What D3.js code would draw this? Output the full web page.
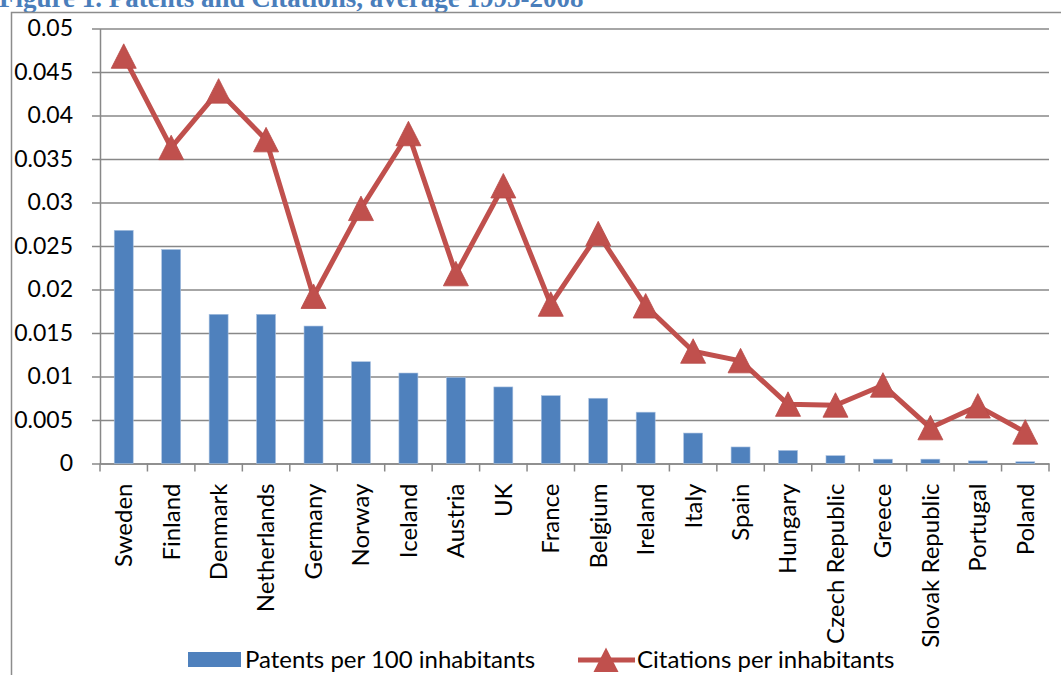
<!DOCTYPE html>
<html>
<head>
<meta charset="utf-8">
<script src="https://cdn.jsdelivr.net/npm/d3@7"></script>
<style>
  html, body { margin: 0; padding: 0; background: #fff; }
  svg { display: block; }
</style>
</head>
<body>
<div id="chart"></div>
<script>
const countries = ["Sweden", "Finland", "Denmark", "Netherlands", "Germany", "Norway", "Iceland", "Austria",
  "UK", "France", "Belgium", "Ireland", "Italy", "Spain", "Hungary", "Czech Republic", "Greece",
  "Slovak Republic", "Portugal", "Poland"];
const patents = [0.0268, 0.0246, 0.01715, 0.01715, 0.0158, 0.0117, 0.0104, 0.0099,
  0.0088, 0.0078, 0.0075, 0.0059, 0.0035, 0.0019, 0.0015, 0.0009, 0.0005,
  0.0005, 0.0003, 0.0002];
const citations = [0.0468, 0.0363, 0.0428, 0.0372, 0.0192, 0.0293, 0.0379, 0.0218,
  0.0319, 0.0183, 0.0264, 0.0181, 0.0129, 0.0118, 0.0068, 0.0067, 0.0090,
  0.0041, 0.0066, 0.0036];
const yTicks = [0, 0.005, 0.01, 0.015, 0.02, 0.025, 0.03, 0.035, 0.04, 0.045, 0.05];
const seriesNames = ["Patents per 100 inhabitants", "Citations per inhabitants"];
const titleText = "Figure 1. Patents and Citations, average 1995-2008";

const W = 1061, H = 675;
const margin = { top: 28.5, right: 12, bottom: 211.5, left: 100 };
const width = W - margin.left - margin.right;
const height = H - margin.top - margin.bottom;
const barColor = "#4F81BD";
const lineColor = "#C0504D";
const gridColor = "#888888";
const font = "Lato, 'Open Sans', sans-serif";

const svg = d3.select("#chart")
  .append("svg")
  .attr("width", W)
  .attr("height", H);

// title (cut at the top like the source page)
svg.append("text")
  .attr("x", -1)
  .attr("y", 7)
  .attr("fill", "#4A7EBB")
  .style("font-family", "'Liberation Serif', 'Times New Roman', serif")
  .style("font-weight", "bold")
  .style("font-size", "27px")
  .text(titleText);

// outer frame
svg.append("rect")
  .attr("x", 11.5)
  .attr("y", 12.5)
  .attr("width", W + 10)
  .attr("height", H + 10)
  .attr("fill", "none")
  .attr("stroke", "#8c8c8c")
  .attr("stroke-width", 1.5);

const g = svg.append("g")
  .attr("transform", `translate(${margin.left},${margin.top})`);

const x = d3.scaleBand()
  .domain(countries)
  .range([0, width])
  .padding(0);

const y = d3.scaleLinear()
  .domain([0, 0.05])
  .range([height, 0]);

// y axis with gridlines
const yAxis = g.append("g")
  .call(d3.axisLeft(y)
    .tickValues(yTicks)
    .tickSizeInner(-width)
    .tickSizeOuter(0)
    .tickFormat(d => d === 0 ? "0" : String(+d.toFixed(3))));
yAxis.select(".domain").attr("stroke", gridColor).attr("stroke-width", 1.5);
yAxis.selectAll(".tick line")
  .attr("x1", -8)
  .attr("stroke", gridColor)
  .attr("stroke-width", 1.5);
yAxis.selectAll(".tick text")
  .attr("x", -27)
  .attr("fill", "#000")
  .style("font-family", font)
  .style("font-size", "23px");

// x axis
const xAxis = g.append("g")
  .attr("transform", `translate(0,${height})`)
  .call(d3.axisBottom(x).tickSize(0).tickPadding(0));
xAxis.select(".domain").attr("stroke", gridColor).attr("stroke-width", 1.5);
xAxis.selectAll(".tick text")
  .attr("transform", "rotate(-90)")
  .attr("x", -20)
  .attr("y", 0)
  .attr("dy", "0.35em")
  .attr("text-anchor", "end")
  .attr("fill", "#000")
  .style("font-family", font)
  .style("font-size", "24px");

// tick marks between categories
const bounds = countries.map(c => x(c)).concat([width]);
xAxis.selectAll(".bound")
  .data(bounds)
  .enter().append("line")
  .attr("class", "bound")
  .attr("x1", d => d)
  .attr("x2", d => d)
  .attr("y1", 0)
  .attr("y2", 8)
  .attr("stroke", gridColor)
  .attr("stroke-width", 1.5);

// bars
const barW = x.bandwidth() * 0.4;
g.selectAll(".bar")
  .data(patents)
  .enter().append("rect")
  .attr("class", "bar")
  .attr("x", (d, i) => x(countries[i]) + (x.bandwidth() - barW) / 2)
  .attr("y", d => y(d))
  .attr("width", barW)
  .attr("height", d => y(0) - y(d))
  .attr("fill", barColor)
  .attr("stroke", "#a9c1e0")
  .attr("stroke-width", 0.6);

// citations line
const cx = (d, i) => x(countries[i]) + x.bandwidth() / 2;
g.append("path")
  .datum(citations)
  .attr("fill", "none")
  .attr("stroke", lineColor)
  .attr("stroke-width", 5)
  .attr("stroke-linejoin", "round")
  .attr("d", d3.line().x(cx).y(d => y(d)));

const tri = "M0,-12.5L12.5,12L-12.5,12Z";
g.selectAll(".marker")
  .data(citations)
  .enter().append("path")
  .attr("class", "marker")
  .attr("d", tri)
  .attr("transform", (d, i) => `translate(${cx(d, i)},${y(d)})`)
  .attr("fill", lineColor)
  .attr("stroke", "#b84a47")
  .attr("stroke-width", 0.8);

// legend
const legend = svg.append("g").attr("transform", "translate(188,652)");
legend.append("rect")
  .attr("width", 53)
  .attr("height", 15)
  .attr("fill", barColor);
legend.append("text")
  .attr("x", 57)
  .attr("y", 16)
  .attr("fill", "#000")
  .style("font-family", font)
  .style("font-size", "24px")
  .text(seriesNames[0]);

const leg2 = legend.append("g").attr("transform", "translate(390,0)");
leg2.append("line")
  .attr("x1", 0).attr("x2", 57)
  .attr("y1", 8).attr("y2", 8)
  .attr("stroke", lineColor)
  .attr("stroke-width", 5);
leg2.append("path")
  .attr("d", tri)
  .attr("transform", "translate(28,8)")
  .attr("fill", lineColor);
leg2.append("text")
  .attr("x", 59)
  .attr("y", 16)
  .attr("fill", "#000")
  .style("font-family", font)
  .style("font-size", "24px")
  .text(seriesNames[1]);
</script>
</body>
</html>
